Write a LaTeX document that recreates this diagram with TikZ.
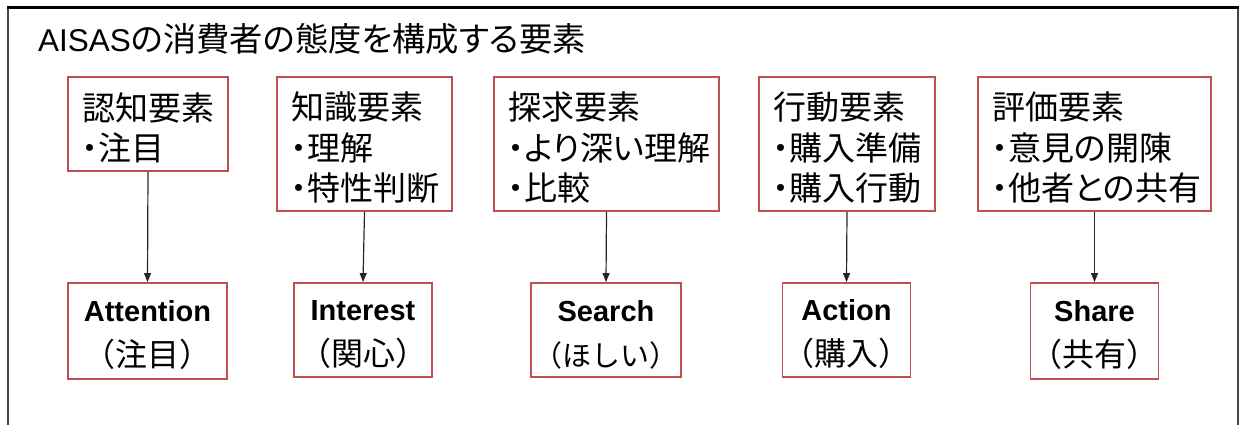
\documentclass[tikz,border=0pt]{standalone}
\usepackage{fontspec}
\setmainfont{Liberation Sans}
\newfontfamily\jp{Noto Sans CJK JP}[RawFeature=+palt]
\newfontfamily\jpf{Noto Sans CJK JP}
\usetikzlibrary{arrows.meta}
\definecolor{boxred}{RGB}{192,80,77}
\definecolor{framegray}{RGB}{70,70,70}
\newcommand{\pd}{・}
\newcommand{\topstrut}{\rule{0pt}{35pt}}
\newcommand{\botstrut}{\rule{0pt}{30pt}}
\begin{document}
\begin{tikzpicture}[x=1pt,y=-1pt,
  topbox/.style={draw=boxred, line width=1.8pt, fill=white, inner xsep=14pt, inner ysep=0pt,
    align=left, font=\jp\fontsize{33}{40.5}\selectfont},
  botbox/.style={draw=boxred, line width=1.8pt, fill=white, inner sep=0pt, align=center,
    font=\fontsize{29}{45}\selectfont},
  conn/.style={draw=black!85, line width=1.2pt, -{Triangle[length=9pt,width=7pt]}}]
\useasboundingbox (0,0) rectangle (1243,425);
\draw[framegray, line width=2pt] (8,8) -- (8,425);
\draw[framegray, line width=2pt] (1238,8) -- (1238,425);
\draw[black, line width=3pt] (6.5,8) -- (1239,8);
\node[anchor=base west, inner sep=0pt, font=\fontsize{31.5}{36}\selectfont] (title) at (38,52)
  {AISAS{\jp\fontsize{33.3}{36}\selectfont の消費者の態度を構成する要素}};
% top boxes
\node[topbox, minimum width=160pt, minimum height=94pt, text width=132pt] (b1) at (148,124)
  {\topstrut 認知要素\\\pd 注目};
\node[topbox, minimum width=175pt, minimum height=134pt, text width=147pt] (b2) at (364.5,144)
  {\topstrut 知識要素\\\pd 理解\\\pd 特性判断};
\node[topbox, minimum width=225pt, minimum height=134pt, text width=197pt] (b3) at (606.5,144)
  {\topstrut 探求要素\\\pd より深い理解\\\pd 比較};
\node[topbox, minimum width=176pt, minimum height=134pt, text width=148pt] (b4) at (847,144)
  {\topstrut 行動要素\\\pd 購入準備\\\pd 購入行動};
\node[topbox, minimum width=233pt, minimum height=134pt, text width=205pt] (b5) at (1094.5,144)
  {\topstrut 評価要素\\\pd 意見の開陳\\\pd 他者との共有};
% bottom boxes
\node[botbox, minimum width=159pt, minimum height=96pt] (a1) at (147.5,331)
  {\botstrut\bfseries Attention\\{\jpf\fontsize{32}{45}\selectfont （注目）}};
\node[botbox, minimum width=138pt, minimum height=94pt] (a2) at (363,330)
  {\botstrut\bfseries Interest\\{\jpf\fontsize{32}{45}\selectfont （関心）}};
\node[botbox, minimum width=150pt, minimum height=94pt] (a3) at (606,330)
  {\botstrut\bfseries Search\\{\jpf\fontsize{29}{45}\selectfont （ほしい）}};
\node[botbox, minimum width=127pt, minimum height=94pt] (a4) at (846.5,330)
  {\botstrut\bfseries Action\\{\jpf\fontsize{32}{45}\selectfont （購入）}};
\node[botbox, minimum width=127pt, minimum height=96pt] (a5) at (1094.5,331)
  {\botstrut\bfseries Share\\{\jpf\fontsize{32}{45}\selectfont （共有）}};
% connectors
\draw[conn] (b1.south) -- (a1.north);
\draw[conn] (b2.south) -- (a2.north);
\draw[conn] (b3.south) -- (a3.north);
\draw[conn] (b4.south) -- (a4.north);
\draw[conn] (b5.south) -- (a5.north);
\end{tikzpicture}
\end{document}
